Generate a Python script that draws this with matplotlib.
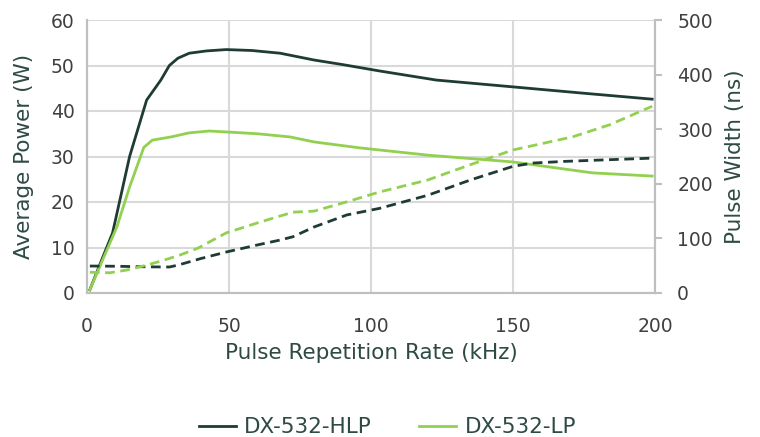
import numpy as np
import matplotlib.pyplot as plt

# Average power (W), left axis
hlp_rate = [1, 5, 9, 15, 21, 26, 29, 32, 36, 42, 49, 58, 68, 80, 90, 103, 123, 150, 175, 199]
hlp_power = [0.7, 7, 13.2, 30, 42.4, 46.8, 50, 51.6, 52.7, 53.2, 53.5, 53.3, 52.7, 51.2, 50.2, 48.8, 46.8, 45.3, 43.9, 42.6]

lp_rate = [1, 6, 10.5, 15, 20, 23, 29.6, 36, 43, 49, 60, 71.5, 80, 96, 120, 150, 178, 199]
lp_power = [0.7, 8, 14.5, 23.3, 32, 33.6, 34.3, 35.2, 35.6, 35.4, 35.0, 34.3, 33.2, 31.9, 30.3, 28.8, 26.4, 25.7]

# Pulse width (ns), right axis
hlp_pw_rate = [1, 10, 20, 29, 32, 40, 49, 60, 68, 72.5, 80, 91.5, 103, 120, 135, 150, 157, 168, 178, 199]
hlp_pw = [49.4, 49, 48, 47.6, 51, 63, 75, 88, 97, 103, 121, 143, 155, 179, 207, 232, 238, 241, 243, 247]

lp_pw_rate = [1, 8, 14, 21, 27, 33, 39, 49, 61, 72.5, 80, 91.5, 103, 120, 135, 150, 171, 184, 199]
lp_pw = [38, 37, 42, 51, 60, 70, 82, 110, 130, 148, 150, 167, 185, 207, 235, 262, 286, 308, 342]

dark = '#1f3b35'
light = '#92d050'
label_c = '#2d4a44'
tick_c = '#404040'
grid_c = '#d9d9d9'

plt.rcParams['font.family'] = ['DejaVu Sans']

fig = plt.figure(figsize=(7.6, 4.37), dpi=100)
ax = fig.add_axes([87 / 760, 1 - 293 / 437, (655 - 87) / 760, (293 - 20) / 437])
ax2 = ax.twinx()

ax.plot(hlp_rate, hlp_power, color=dark, lw=2, label='DX-532-HLP', zorder=3)
ax.plot(lp_rate, lp_power, color=light, lw=2, label='DX-532-LP', zorder=3)
ax2.plot(hlp_pw_rate, hlp_pw, color=dark, lw=2, ls=(0, (3.5, 2)))
ax2.plot(lp_pw_rate, lp_pw, color=light, lw=2, ls=(0, (3.5, 2)))

ax.set_xlim(0, 200)
ax.set_ylim(0, 60)
ax2.set_ylim(0, 500)
ax.set_xticks([0, 50, 100, 150, 200])
ax.set_yticks(range(0, 61, 10))
ax2.set_yticks(range(0, 501, 100))

ax.grid(True, color=grid_c, lw=1.5)
ax.set_axisbelow(True)

for a in (ax, ax2):
    for s in a.spines.values():
        s.set_color('#bfbfbf')
        s.set_linewidth(1.5)
    a.spines['top'].set_visible(False)
    a.tick_params(labelsize=13.5, labelcolor=tick_c, length=0)
ax.tick_params(axis='x', pad=17)
ax.tick_params(axis='y', pad=9)
ax2.tick_params(axis='y', length=5, color='#bfbfbf', width=1.5, direction='out', pad=11)

ax.set_xlabel('Pulse Repetition Rate (kHz)', fontsize=15.5, color=label_c, labelpad=5)
ax.set_ylabel('Average Power (W)', fontsize=15.5, color=label_c, labelpad=12)
ax2.set_ylabel('Pulse Width (ns)', fontsize=15.5, color=label_c, labelpad=9)

fig.legend(loc='lower center', bbox_to_anchor=(0.51, -0.045), ncol=2, frameon=False,
           fontsize=15.5, labelcolor=label_c, handlelength=1.7, columnspacing=2.2, handletextpad=0.4)

fig.savefig('out.png', dpi=100)
